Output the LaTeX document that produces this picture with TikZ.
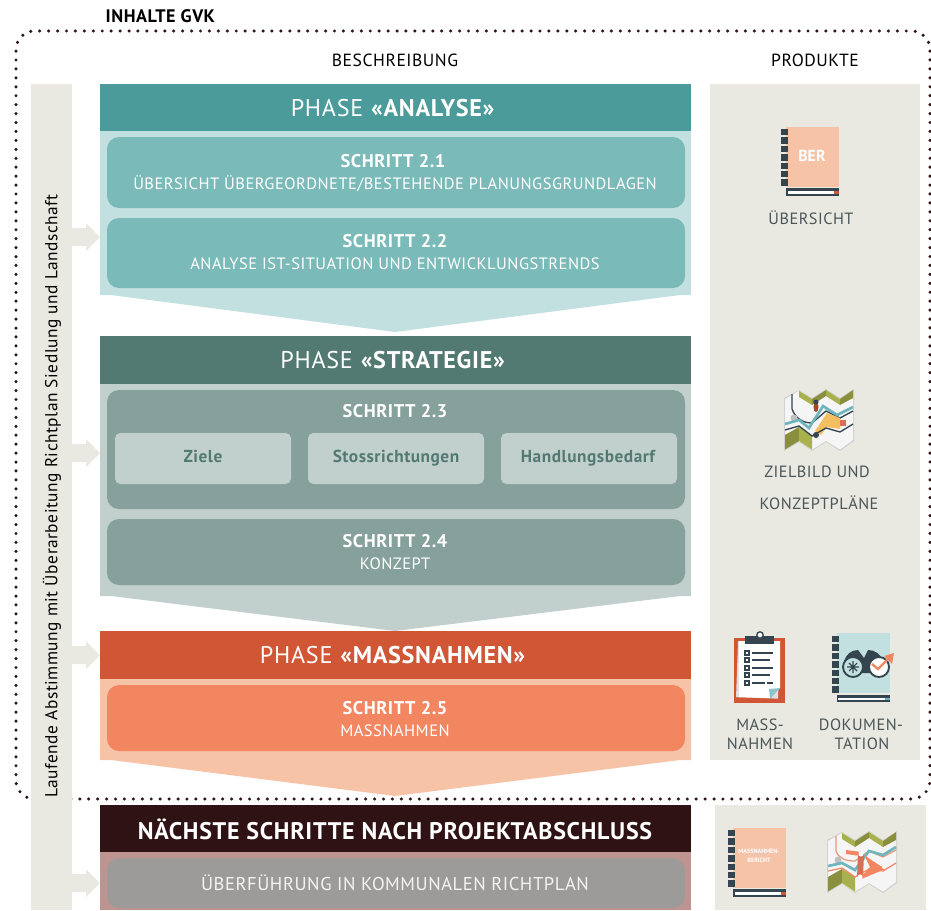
\documentclass[tikz,border=0pt]{standalone}
\usepackage{fontspec}
\setmainfont{PT Sans}
\newfontfamily\spf[LetterSpace=3]{PT Sans}
\definecolor{panel}{HTML}{E9E9E1}
\definecolor{dotc}{HTML}{2F1518}
\definecolor{tealh}{HTML}{4B9B9B}
\definecolor{tealb}{HTML}{C2E0E0}
\definecolor{teals}{HTML}{7ABAB8}
\definecolor{greenh}{HTML}{537A72}
\definecolor{greenb}{HTML}{C2D0CD}
\definecolor{greens}{HTML}{86A09C}
\definecolor{redh}{HTML}{D05636}
\definecolor{redb}{HTML}{F7C3A7}
\definecolor{reds}{HTML}{F28661}
\definecolor{darkh}{HTML}{2F1214}
\definecolor{darkb}{HTML}{BE9490}
\definecolor{greys}{HTML}{9C9B99}
\definecolor{ink}{HTML}{34454F}
\definecolor{labelc}{HTML}{4A5558}
\definecolor{olive}{HTML}{A9B14F}
\definecolor{olived}{HTML}{8A8F3E}
\definecolor{mapt}{HTML}{6FB5BE}
\definecolor{mapo}{HTML}{F5BE5F}
\tikzset{
  x=0.75pt,y=-0.75pt,
  hdr/.style={anchor=center,text=white,font=\spf\fontsize{18.1}{20}\selectfont},
  stepbox/.style={rounded corners=9pt,inner sep=0pt,outer sep=0pt},
  stt/.style={anchor=center,text=white,font=\spf\fontsize{13.8}{15}\selectfont\bfseries},
  sts/.style={anchor=center,text=white,font=\spf\fontsize{12.35}{14}\selectfont},
  lab/.style={anchor=center,text=labelc,font=\spf\fontsize{12.2}{15}\selectfont},
  inner/.style={fill=greenb,rounded corners=4pt},
  intx/.style={anchor=base,text=greenh,font=\spf\fontsize{13}{15}\selectfont\bfseries},
  dotline/.style={dotc,line width=2.6pt,line cap=round,dash pattern=on 0pt off 6.7pt},
}
\newcommand{\phasebox}[6]{% y0 y1 y2 y3 hcol bcol
  \fill[#6] (100,#2) -- (691,#2) -- (691,#3) -- (680,#3) -- (395,#4) -- (111,#3) -- (100,#3) -- cycle;
  \fill[#5] (100,#1) rectangle (691,#2);
}
\newcommand{\blockarrow}[1]{%
  \fill[panel] (72,#1-9) -- (86,#1-9) -- (86,#1-14) -- (100,#1) -- (86,#1+14) -- (86,#1+9) -- (72,#1+9) -- cycle;
}
\newcommand{\bookicon}[2]{%
  \begin{scope}[shift={(#1,#2)}]
    \fill[redb] (0,0) rectangle (53,60);
    \foreach \k in {0,...,6}{\fill[ink] (-5,{2+8.4*\k}) rectangle (2,{8.3+8.4*\k});}
    \fill[ink] (0,61) rectangle (53,69);
    \fill[white] (2,63.5) rectangle (48,66.5);
    \fill[redh] (48,63.5) rectangle (53,66.5);
  \end{scope}
}
\newcommand{\mapbase}[2]{%
  \begin{scope}[shift={(#1,#2)}]
    \fill[black!18] (-1,7) -- (14,-1) -- (27,7) -- (41,-2) -- (55,7) -- (69,-2) -- (69,50) -- (55,60) -- (41,51) -- (27,60) -- (14,51) -- (-1,60) -- cycle;
    \fill[white!96!black] (0,8) -- (14,0) -- (27,8) -- (41,-1) -- (55,8) -- (68,-1) -- (68,49) -- (55,58.5) -- (41,50) -- (27,58.5) -- (14,50) -- (0,58.5) -- cycle;
    \fill[olive] (14,0) -- (27,8) -- (27,14) -- (14,6) -- cycle;
    \fill[olive] (41,-1) -- (55,8) -- (55,14) -- (41,5) -- cycle;
    \fill[olived] (27,8) -- (41,-1) -- (41,5) -- (27,14) -- cycle;
    \fill[olived] (55,8) -- (68,-1) -- (68,7) -- (55,14) -- cycle;
    \fill[olived] (0,44) -- (14,36) -- (14,50) -- (0,58.5) -- cycle;
    \fill[olive] (14,36) -- (27,44) -- (27,58.5) -- (14,50) -- cycle;
  \end{scope}
}
\begin{document}
\begin{tikzpicture}
\useasboundingbox (0,0) rectangle (931,910);
% frame
\draw[dotline,rounded corners=14pt]
  (72,799) -- (16,799) -- (16,31) -- (930,31) -- (930,799) -- cycle;
% panels
\fill[panel] (31,84) rectangle (72,910);
\fill[panel] (710,84) rectangle (920,760);
\fill[panel] (715,805) rectangle (926,910);
\node[anchor=west,text=black,font=\spf\fontsize{13.6}{15}\selectfont\bfseries] (title) at (101,16) {INHALTE GVK};
\node[anchor=center,text=black,font=\spf\fontsize{13.2}{15}\selectfont] (hbes) at (395,60) {BESCHREIBUNG};
\node[anchor=center,text=black,font=\spf\fontsize{13.2}{15}\selectfont] (hprod) at (815,60) {PRODUKTE};
\node[rotate=90,anchor=center,text=black,font=\spf\fontsize{13}{15}\selectfont] (side) at (52,496) {Laufende Abstimmung mit Überarbeitung Richtplan Siedlung und Landschaft};
% arrows
\blockarrow{237}\blockarrow{453}\blockarrow{655}\blockarrow{883}
% analyse
\phasebox{84}{131}{295}{332}{tealh}{tealb}
\node[hdr] (pa) at (393,108) {PHASE \textbf{«ANALYSE»}};
\fill[teals,stepbox] (107,137) rectangle (685,208);
\node[stt] (s21) at (393,161) {SCHRITT 2.1};
\node[sts] (s21b) at (395,183.5) {ÜBERSICHT ÜBERGEORDNETE/BESTEHENDE PLANUNGSGRUNDLAGEN};
\fill[teals,stepbox] (107,218) rectangle (685,288);
\node[stt] (s22) at (395,241) {SCHRITT 2.2};
\node[sts] (s22b) at (395,263.5) {ANALYSE IST-SITUATION UND ENTWICKLUNGSTRENDS};
% strategie
\phasebox{336}{384}{596}{631}{greenh}{greenb}
\node[hdr] (ps) at (393,360) {PHASE \textbf{«STRATEGIE»}};
\fill[greens,stepbox] (107,390) rectangle (685,509);
\node[stt] (s23) at (395,411) {SCHRITT 2.3};
\fill[inner] (115,433) rectangle (291,484);
\fill[inner] (308,433) rectangle (484,484);
\fill[inner] (501,433) rectangle (677,484);
\node[intx] (i1) at (203,462) {Ziele};
\node[intx] (i2) at (396,462) {Stossrichtungen};
\node[intx] (i3) at (588,462) {Handlungsbedarf};
\fill[greens,stepbox] (107,519) rectangle (685,585);
\node[stt] (s24) at (395,541) {SCHRITT 2.4};
\node[sts] (s24b) at (395,563.5) {KONZEPT};
% massnahmen
\phasebox{631}{679}{760}{796}{redh}{redb}
\node[hdr] (pm) at (393,655) {PHASE \textbf{«MASSNAHMEN»}};
\fill[reds,stepbox] (107,685) rectangle (685,751);
\node[stt] (s25) at (395,708) {SCHRITT 2.5};
\node[sts] (s25b) at (395,730.5) {MASSNAHMEN};
% next
\fill[darkb] (100,852) rectangle (691,910);
\fill[darkh] (100,805) rectangle (691,852);
\node[anchor=center,text=white,font=\spf\fontsize{18}{20}\selectfont\bfseries] (pn) at (395,829) {NÄCHSTE SCHRITTE NACH PROJEKTABSCHLUSS};
\fill[greys,stepbox] (107,858) rectangle (685,908);
\node[anchor=center,text=white!88!greys,font=\spf\fontsize{13.9}{16}\selectfont] (un) at (395,882.5) {ÜBERFÜHRUNG IN KOMMUNALEN RICHTPLAN};
% product labels
\node[lab] (l1) at (811,218) {ÜBERSICHT};
\node[lab] (l2) at (817,472) {ZIELBILD UND};
\node[lab] (l3) at (819,503) {KONZEPTPLÄNE};
\node[lab] (l4) at (760,725) {MASS-};
\node[lab] (l5) at (760,744) {NAHMEN};
\node[lab] (l6) at (861,725) {DOKUMEN-};
\node[lab] (l7) at (862,744) {TATION};
% book 1
\bookicon{786}{127}
\node[anchor=center,text=white,font=\fontsize{12}{13}\selectfont\bfseries] (ber) at (812,156) {BER};
% map 1
\mapbase{785}{391}
\begin{scope}[shift={(785,391)}]
  \draw[ink,line width=1pt] (7,3) -- (7,18) to[out=-70,in=180] (27,32) -- (41,20) -- (55,27) -- (68,20);
  \fill[black!25] (9,27) circle (3.5);
  \draw[mapt,line width=2pt] (0,33) -- (14,29) -- (24,37) to[out=60,in=-120] (38,15) -- (52,24) -- (68,16);
  \fill[mapo] (42,22) -- (55,27) -- (55,38) -- (42,36) -- (36,44) -- (30,40) -- cycle;
  \fill[redh!85!white] (55,29) rectangle (61,35);
  \draw[ink,line width=1pt] (0,39) -- (14,35) -- (27,45) -- (41,37) -- (55,41) -- (68,33);
  \fill[redh!80!black] (31,16) ellipse (2.5 and 5);
  \fill[ink] (31,11) circle (2.5);
  \fill[ink] (31,44) circle (3);
\end{scope}
% clipboard
\fill[redh] (734,638) rectangle (785,703);
\fill[black!12,rotate around={-2:(760,670)}] (737,642) rectangle (779,698);
\fill[white] (739,641) -- (780,641) -- (780,688) -- (770,698) -- (739,697) -- cycle;
\fill[mapt!80!white] (769,689) -- (780,688) -- (770,699) -- cycle;
\fill[ink] (745,636) rectangle (774,644);
\draw[ink,line width=1pt,fill=white] (760,635) circle (3.2);
\foreach \yy/\xe in {653/773,660/770,668/773,675/770}{
  \draw[ink,line width=0.8pt,fill=white] (745,\yy-2) rectangle (749,\yy+2);
  \draw[ink,line width=1.3pt] (752,\yy) -- (\xe,\yy);
}
\draw[ink,line width=0.8pt,fill=white] (745,681) rectangle (749,685);
\draw[ink,line width=1.3pt] (752,683) -- (765,683);
\draw[ink,line width=1.3pt] (767,683) -- (773,683);
% book 2
\begin{scope}[shift={(837,633)}]
  \fill[tealb] (0,0) rectangle (53,60);
  \foreach \k in {0,...,6}{\fill[ink] (-5,{3+8.4*\k}) rectangle (2,{9.3+8.4*\k});}
  \fill[ink] (0,62) rectangle (53,69);
  \fill[white!90!tealb] (1,64.5) rectangle (48,66.5);
  \fill[mapt] (48,64.5) rectangle (53,66.5);
  \fill[ink] (7,28) to[out=70,in=180] (21,17) -- (27,25) -- (31,17) to[out=0,in=110] (46,28) -- (46,40) -- (7,40) -- cycle;
  \draw[ink,line width=1.4pt,fill=tealb] (16,34) circle (10);
  \draw[ink,line width=1.4pt,fill=white] (42,34) circle (10);
  \draw[ink,line width=0.8pt] (10,34) -- (22,34) (16,28) -- (16,40) (12,30) -- (20,38) (20,30) -- (12,38);
  \fill[ink] (29,32) circle (2.2);
  \draw[reds,line width=1.8pt] (35,31) -- (41,36) -- (52,25);
  \fill[reds] (47,23) -- (57,20) -- (55,31) -- cycle;
\end{scope}
% book 3
\bookicon{733}{828}
\node[anchor=center,align=center,text=white,font=\fontsize{4.6}{6.5}\selectfont\bfseries] (mb) at (759,856) {MASSNAHMEN-\\BERICHT};
% map 2
\mapbase{828}{833}
\begin{scope}[shift={(828,833)}]
  \draw[redb!60!redh,line width=0.9pt] (8,3) -- (8,18) to[out=-70,in=180] (27,28) -- (41,18) -- (55,24) -- (68,17);
  \fill[black!25] (10,27) circle (3.5);
  \draw[mapt,line width=2pt] (0,33) -- (14,30) -- (27,37) -- (41,18) -- (55,22) -- (68,14);
  \draw[reds,line width=0.9pt] (0,38) -- (14,35) -- (27,44) -- (41,36) -- (55,38) -- (68,30);
  \draw[redh!85!white,line width=4.5pt] (33,21) -- (32,44);
  \draw[reds,line width=3pt] (33,21) -- (18,19);
  \fill[reds] (36,22) -- (54,34) -- (36,41) -- (42,34) -- cycle;
  \draw[reds,line width=3pt] (33,44) -- (57,34);
  \fill[white] (33,21) circle (2.5) (32,44) circle (2.5) (56,34) circle (2);
\end{scope}
\end{tikzpicture}
\end{document}
